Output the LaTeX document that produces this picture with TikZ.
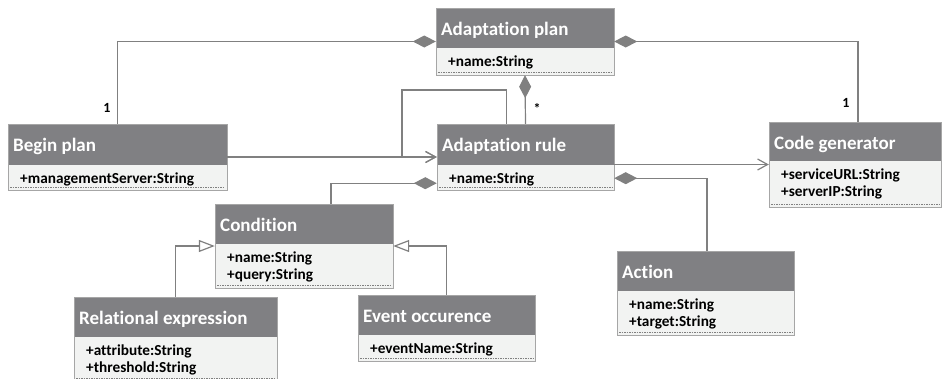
\documentclass[tikz,border=0pt]{standalone}
\usepackage{fontspec}
\setmainfont{Carlito}[Ligatures={NoCommon}]
\usetikzlibrary{arrows.meta,fit}
\definecolor{hdrcol}{RGB}{128,128,131}
\definecolor{bodycol}{RGB}{242,243,242}
\definecolor{bordcol}{RGB}{166,166,166}
\definecolor{linecol}{RGB}{128,128,128}
\tikzset{
  hdrfill/.style={fill=hdrcol},
  bodyfill/.style={fill=bodycol},
  boxline/.style={draw=bordcol,line width=1pt},
  dotline/.style={draw=linecol,line width=0.5pt,dash pattern=on 1.5pt off 1pt},
  ttl/.style={anchor=base west,inner sep=0,text=white,font=\fontsize{19}{22}\selectfont\bfseries},
  attr/.style={anchor=base west,inner sep=0,text=black,font=\fontsize{15.3}{17}\selectfont\bfseries},
  mult/.style={inner sep=0,text=black,font=\fontsize{14}{16}\selectfont\bfseries},
  conn/.style={draw=linecol,line width=1.2pt},
  compstart/.style={{Diamond[length=23pt,width=12pt,fill=linecol]}-},
  openarr/.style={-{Straight Barb[length=10pt,width=11pt,line width=1.2pt]}},
  genarr/.style={-{Triangle[open,length=16pt,width=12pt,fill=white]}},
}
\newcommand\umlcls[8]{%
  \fill[hdrfill] (#2,#3) rectangle (#4,#5);
  \fill[bodyfill] (#2,#5) rectangle (#4,#6);
  \draw[dotline] ({#2+2},{#6-3}) -- ({#4-2},{#6-3});
  \draw[boxline] (#2,#3) rectangle (#4,#6);
  \node[ttl] at ({#2+5},{#3+27}) {#7};
  \foreach \a [count=\i] in {#8} {\node[attr] at ({#2+12},{#5+1+17*\i}) {\a};}
  \node[inner sep=0,fit={(#2,#3) (#4,#6)}] (#1) {};
}
\begin{document}
\begin{tikzpicture}[x=1pt,y=-1pt]
\useasboundingbox (0,0) rectangle (942,378);
\umlcls{ap}{436}{8}{614}{48}{75}{Adaptation plan}{+name:String}
\umlcls{ar}{437}{124}{614}{165}{190}{Adaptation rule}{+name:String}
\umlcls{bp}{8}{124}{227}{165}{190}{Begin plan}{+managementServer:String}
\umlcls{cg}{769}{122}{941}{161}{207}{Code generator}{+serviceURL:String,+serverIP:String}
\umlcls{cond}{215}{204}{393}{244}{288}{Condition}{+name:String,+query:String}
\umlcls{re}{74}{297}{277}{337}{381}{Relational expression}{+attribute:String,+threshold:String}
\umlcls{eo}{358}{295}{535}{335}{361}{Event occurence}{+eventName:String}
\umlcls{act}{617}{251}{794}{291}{335}{Action}{+name:String,+target:String}
% compositions
\draw[conn,compstart] (ap.west) -| (bp.north);
\draw[conn,compstart] (ap.east) -| ([xshift=3pt]cg.north);
\draw[conn,compstart] (ap.south) -- (ar.north);
\draw[conn,compstart] ([yshift=7pt]ar.south west) -| ([xshift=27pt]cond.north);
\draw[conn,compstart] ([yshift=12pt]ar.south east) -| ([xshift=1.5pt]act.north);
% associations
\coordinate (lpA) at ([xshift=-19pt]ar.north |- 0,90);
\coordinate (lpB) at (402,90);
\draw[conn,openarr] ([xshift=-19pt]ar.north) -- (lpA) -- (lpB) |- (ar.west);
\draw[conn,openarr] (bp.east) -- (ar.west);
\draw[conn,openarr] (ar.east |- cg.west) -- (cg.west);
% generalizations
\draw[conn,genarr] (re.north) |- (cond.west);
\draw[conn,genarr] (eo.north) |- (cond.east);
% multiplicities
\node[mult] (m1) at (107,108) {1};
\node[mult] (m2) at (846,103) {1};
\node[mult] (m3) at (537,108) {*};
\end{tikzpicture}
\end{document}
